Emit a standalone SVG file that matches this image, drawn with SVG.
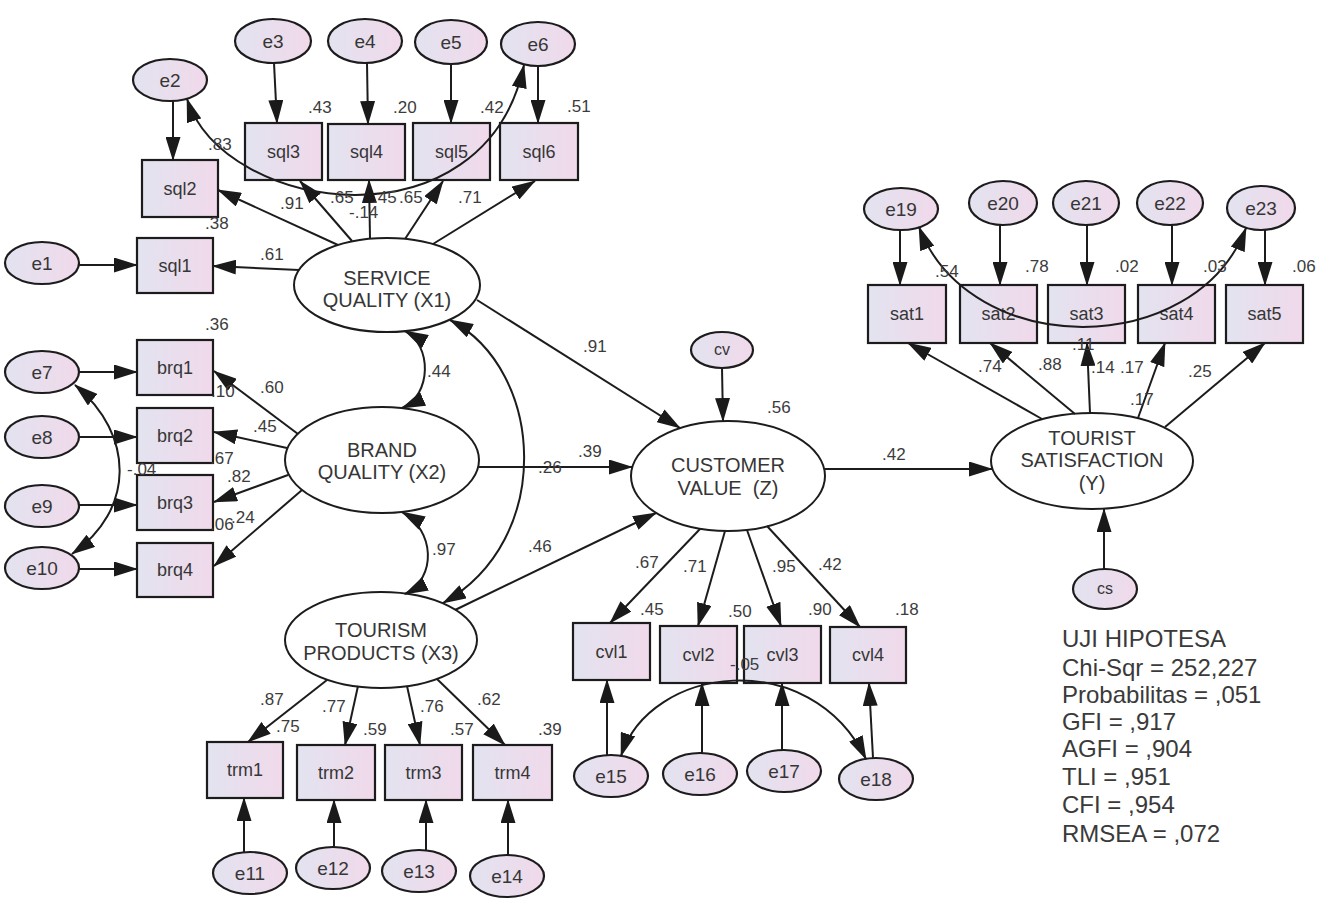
<svg xmlns="http://www.w3.org/2000/svg" width="1336" height="908" viewBox="0 0 1336 908">
<defs>
<linearGradient id="fillg" x1="0" y1="0" x2="1" y2="0">
<stop offset="0" stop-color="#e3e3f0"/><stop offset="1" stop-color="#f0d9ea"/>
</linearGradient>
<marker id="ah" markerUnits="userSpaceOnUse" markerWidth="24" markerHeight="15" viewBox="0 0 24 15" refX="23" refY="7.5" orient="auto-start-reverse"><path d="M0,0 L24,7.5 L0,15 z" fill="#1a1a1a"/></marker>
</defs>
<style>
.bx{fill:url(#fillg);stroke:#1c1c1c;stroke-width:2.2}
.er{fill:url(#fillg);stroke:#1c1c1c;stroke-width:2.2}
.lt{fill:#fff;stroke:#1c1c1c;stroke-width:2}
.t{font-family:"Liberation Sans",Arial,sans-serif;fill:#363636;text-anchor:middle}
.nl{font-size:18px}
.el{font-size:19px}
.ll{font-size:20px}
.n{font-family:"Liberation Sans",Arial,sans-serif;font-size:17px;fill:#3c3c3c}
.c path{stroke:#1c1c1c;stroke-width:2;fill:none}
.a{marker-end:url(#ah)}
.b{marker-start:url(#ah);marker-end:url(#ah)}
.st{font-family:"Liberation Sans",Arial,sans-serif;font-size:24px;fill:#3a3a3a}
</style>
<rect width="1336" height="908" fill="#fff"/>

<!-- observed boxes -->
<g id="sql1"><rect class="bx" x="137" y="238" width="76" height="55"/><text class="t nl" x="175" y="272">sql1</text></g>
<g id="sql2"><rect class="bx" x="142" y="160" width="76" height="57"/><text class="t nl" x="180" y="195">sql2</text></g>
<g id="sql3"><rect class="bx" x="245" y="123" width="77" height="57"/><text class="t nl" x="283.5" y="158">sql3</text></g>
<g id="sql4"><rect class="bx" x="328" y="124" width="77" height="56"/><text class="t nl" x="366.5" y="158">sql4</text></g>
<g id="sql5"><rect class="bx" x="413" y="123" width="77" height="57"/><text class="t nl" x="451.5" y="158">sql5</text></g>
<g id="sql6"><rect class="bx" x="500" y="123" width="78" height="57"/><text class="t nl" x="539" y="158">sql6</text></g>
<g id="brq1"><rect class="bx" x="137" y="340" width="76" height="55"/><text class="t nl" x="175" y="374">brq1</text></g>
<g id="brq2"><rect class="bx" x="137" y="408" width="76" height="55"/><text class="t nl" x="175" y="442">brq2</text></g>
<g id="brq3"><rect class="bx" x="137" y="475" width="76" height="55"/><text class="t nl" x="175" y="509">brq3</text></g>
<g id="brq4"><rect class="bx" x="137" y="543" width="76" height="54"/><text class="t nl" x="175" y="576">brq4</text></g>
<g id="trm1"><rect class="bx" x="207" y="742" width="76" height="56"/><text class="t nl" x="245" y="776">trm1</text></g>
<g id="trm2"><rect class="bx" x="297" y="745" width="78" height="55"/><text class="t nl" x="336" y="779">trm2</text></g>
<g id="trm3"><rect class="bx" x="385" y="745" width="77" height="55"/><text class="t nl" x="423.5" y="779">trm3</text></g>
<g id="trm4"><rect class="bx" x="473" y="745" width="79" height="55"/><text class="t nl" x="512.5" y="779">trm4</text></g>
<g id="cvl1"><rect class="bx" x="573" y="623" width="77" height="57"/><text class="t nl" x="611.5" y="658">cvl1</text></g>
<g id="cvl2"><rect class="bx" x="660" y="626" width="77" height="57"/><text class="t nl" x="698.5" y="661">cvl2</text></g>
<g id="cvl3"><rect class="bx" x="744" y="626" width="77" height="57"/><text class="t nl" x="782.5" y="661">cvl3</text></g>
<g id="cvl4"><rect class="bx" x="830" y="627" width="76" height="56"/><text class="t nl" x="868" y="661">cvl4</text></g>
<g id="sat1"><rect class="bx" x="868" y="285" width="78" height="58"/><text class="t nl" x="907" y="320">sat1</text></g>
<g id="sat2"><rect class="bx" x="960" y="285" width="77" height="58"/><text class="t nl" x="998.5" y="320">sat2</text></g>
<g id="sat3"><rect class="bx" x="1048" y="285" width="77" height="58"/><text class="t nl" x="1086.5" y="320">sat3</text></g>
<g id="sat4"><rect class="bx" x="1138" y="285" width="77" height="58"/><text class="t nl" x="1176.5" y="320">sat4</text></g>
<g id="sat5"><rect class="bx" x="1226" y="285" width="77" height="58"/><text class="t nl" x="1264.5" y="320">sat5</text></g>

<!-- error terms -->
<g id="e1"><ellipse class="er" cx="42" cy="263" rx="37" ry="21"/><text class="t el" x="42" y="270">e1</text></g>
<g id="e2"><ellipse class="er" cx="170" cy="80" rx="37" ry="21"/><text class="t el" x="170" y="87">e2</text></g>
<g id="e3"><ellipse class="er" cx="273" cy="41" rx="38" ry="22"/><text class="t el" x="273" y="48">e3</text></g>
<g id="e4"><ellipse class="er" cx="365" cy="41" rx="37" ry="22"/><text class="t el" x="365" y="48">e4</text></g>
<g id="e5"><ellipse class="er" cx="451" cy="42" rx="36" ry="22"/><text class="t el" x="451" y="49">e5</text></g>
<g id="e6"><ellipse class="er" cx="538" cy="44" rx="37" ry="22"/><text class="t el" x="538" y="51">e6</text></g>
<g id="e7"><ellipse class="er" cx="42" cy="372" rx="37" ry="21"/><text class="t el" x="42" y="379">e7</text></g>
<g id="e8"><ellipse class="er" cx="42" cy="437" rx="37" ry="21"/><text class="t el" x="42" y="444">e8</text></g>
<g id="e9"><ellipse class="er" cx="42" cy="506" rx="37" ry="21"/><text class="t el" x="42" y="513">e9</text></g>
<g id="e10"><ellipse class="er" cx="42" cy="568" rx="37" ry="21"/><text class="t el" x="42" y="575">e10</text></g>
<g id="e11"><ellipse class="er" cx="250" cy="873" rx="37" ry="21"/><text class="t el" x="250" y="880">e11</text></g>
<g id="e12"><ellipse class="er" cx="333" cy="868" rx="37" ry="21"/><text class="t el" x="333" y="875">e12</text></g>
<g id="e13"><ellipse class="er" cx="419" cy="871" rx="37" ry="21"/><text class="t el" x="419" y="878">e13</text></g>
<g id="e14"><ellipse class="er" cx="507" cy="876" rx="37" ry="21"/><text class="t el" x="507" y="883">e14</text></g>
<g id="e15"><ellipse class="er" cx="611" cy="776" rx="37" ry="21"/><text class="t el" x="611" y="783">e15</text></g>
<g id="e16"><ellipse class="er" cx="700" cy="774" rx="37" ry="21"/><text class="t el" x="700" y="781">e16</text></g>
<g id="e17"><ellipse class="er" cx="784" cy="771" rx="37" ry="21"/><text class="t el" x="784" y="778">e17</text></g>
<g id="e18"><ellipse class="er" cx="876" cy="779" rx="37" ry="21"/><text class="t el" x="876" y="786">e18</text></g>
<g id="e19"><ellipse class="er" cx="901" cy="209" rx="37" ry="21"/><text class="t el" x="901" y="216">e19</text></g>
<g id="e20"><ellipse class="er" cx="1003" cy="203" rx="34" ry="22"/><text class="t el" x="1003" y="210">e20</text></g>
<g id="e21"><ellipse class="er" cx="1086" cy="203" rx="33" ry="22"/><text class="t el" x="1086" y="210">e21</text></g>
<g id="e22"><ellipse class="er" cx="1170" cy="203" rx="33" ry="22"/><text class="t el" x="1170" y="210">e22</text></g>
<g id="e23"><ellipse class="er" cx="1261" cy="208" rx="34" ry="22"/><text class="t el" x="1261" y="215">e23</text></g>
<g id="cv"><ellipse class="er" cx="722" cy="350" rx="31" ry="18"/><text class="t" style="font-size:16px" x="722" y="355">cv</text></g>
<g id="cs"><ellipse class="er" cx="1105" cy="589" rx="32" ry="20"/><text class="t" style="font-size:16px" x="1105" y="594">cs</text></g>

<!-- latent variables -->
<g id="SQ"><ellipse class="lt" cx="387" cy="285" rx="93" ry="47"/><text class="t ll" x="387" y="285">SERVICE</text><text class="t ll" x="387" y="307">QUALITY (X1)</text></g>
<g id="BQ"><ellipse class="lt" cx="382" cy="460" rx="97" ry="53"/><text class="t ll" x="382" y="457">BRAND</text><text class="t ll" x="382" y="479">QUALITY (X2)</text></g>
<g id="TP"><ellipse class="lt" cx="381" cy="640" rx="96" ry="48"/><text class="t ll" x="381" y="637">TOURISM</text><text class="t ll" x="381" y="660">PRODUCTS (X3)</text></g>
<g id="CV"><ellipse class="lt" cx="728" cy="476" rx="97" ry="55"/><text class="t ll" x="728" y="472">CUSTOMER</text><text class="t ll" x="728" y="495" style="white-space:pre">VALUE  (Z)</text></g>
<g id="TS"><ellipse class="lt" cx="1092" cy="461" rx="101" ry="48"/><text class="t ll" x="1092" y="445">TOURIST</text><text class="t ll" x="1092" y="467">SATISFACTION</text><text class="t ll" x="1092" y="490">(Y)</text></g>

<!-- connectors -->
<g id="connectors" class="c">
<path class="a" d="M79,265 L137,265"/>
<path class="a" d="M173,101 L173,160"/>
<path class="a" d="M274,63 L277,123"/>
<path class="a" d="M367,63 L368,124"/>
<path class="a" d="M451,64 L451,123"/>
<path class="a" d="M538,66 L538,123"/>
<path class="a" d="M79,372 L137,372"/>
<path class="a" d="M79,437 L137,437"/>
<path class="a" d="M79,505 L137,505"/>
<path class="a" d="M79,569 L137,569"/>
<path class="a" d="M244,852 L244,798"/>
<path class="a" d="M334,847 L334,800"/>
<path class="a" d="M426,851 L426,800"/>
<path class="a" d="M508,855 L508,800"/>
<path class="a" d="M607,755 L607,680"/>
<path class="a" d="M702,753 L702,683"/>
<path class="a" d="M782,750 L782,683"/>
<path class="a" d="M873,758 L869,683"/>
<path class="a" d="M900,230 L900,285"/>
<path class="a" d="M1000,225 L1000,285"/>
<path class="a" d="M1087,225 L1087,285"/>
<path class="a" d="M1172,225 L1172,285"/>
<path class="a" d="M1265,230 L1265,285"/>
<path class="a" d="M722,368 L723,421"/>
<path class="a" d="M1104,569 L1104,509"/>
<path class="a" d="M299,270 L213,266"/>
<path class="a" d="M338,245 L218,190"/>
<path class="a" d="M352,241 L300,181"/>
<path class="a" d="M370,238 L369,180"/>
<path class="a" d="M405,239 L443,181"/>
<path class="a" d="M433,244 L535,181"/>
<path class="a" d="M298,434 L214,371"/>
<path class="a" d="M287,448 L214,432"/>
<path class="a" d="M288,475 L214,502"/>
<path class="a" d="M302,490 L214,566"/>
<path class="a" d="M327,680 L248,742"/>
<path class="a" d="M358,686 L345,745"/>
<path class="a" d="M407,686 L420,745"/>
<path class="a" d="M437,679 L505,745"/>
<path class="a" d="M700,529 L610,623"/>
<path class="a" d="M725,531 L698,626"/>
<path class="a" d="M747,530 L781,626"/>
<path class="a" d="M767,526 L860,627"/>
<path class="a" d="M1042,419 L908,343"/>
<path class="a" d="M1075,414 L990,343"/>
<path class="a" d="M1090,413 L1087,343"/>
<path class="a" d="M1138,418 L1165,343"/>
<path class="a" d="M1165,427 L1265,343"/>
<path class="a" d="M477,300 L680,428"/>
<path class="a" d="M479,467 L632,467"/>
<path class="a" d="M455,610 L656,513"/>
<path class="a" d="M825,469 L992,469"/>
<path class="b" d="M187,99 C225,215 485,250 524,65"/>
<path class="b" d="M75,385 C135,435 135,510 72,554"/>
<path class="b" d="M405,331 C432,345 432,395 402,408"/>
<path class="b" d="M402,512 C435,530 437,578 405,594"/>
<path class="b" d="M450,320 C545,370 555,540 443,603"/>
<path class="b" d="M621,756 C650,665 810,645 866,759"/>
<path class="b" d="M919,227 C970,360 1195,360 1246,228"/>
</g>

<!-- estimates -->
<g id="estimates">
<text class="n" x="208" y="150">.83</text>
<text class="n" x="308" y="113">.43</text>
<text class="n" x="393" y="113">.20</text>
<text class="n" x="480" y="113">.42</text>
<text class="n" x="567" y="112">.51</text>
<text class="n" x="205" y="229">.38</text>
<text class="n" x="280" y="209">.91</text>
<text class="n" x="330" y="203">.65</text>
<text class="n" x="349" y="218">-.14</text>
<text class="n" x="373" y="203">.45</text>
<text class="n" x="399" y="203">.65</text>
<text class="n" x="458" y="203">.71</text>
<text class="n" x="260" y="260">.61</text>
<text class="n" x="205" y="330">.36</text>
<text class="n" x="211" y="397">.10</text>
<text class="n" x="260" y="393">.60</text>
<text class="n" x="253" y="432">.45</text>
<text class="n" x="210" y="464">.67</text>
<text class="n" x="227" y="482">.82</text>
<text class="n" x="210" y="530">.06</text>
<text class="n" x="231" y="523">.24</text>
<text class="n" x="127" y="475">-.04</text>
<text class="n" x="427" y="377">.44</text>
<text class="n" x="432" y="555">.97</text>
<text class="n" x="583" y="352">.91</text>
<text class="n" x="538" y="473">.26</text>
<text class="n" x="578" y="457">.39</text>
<text class="n" x="528" y="552">.46</text>
<text class="n" x="767" y="413">.56</text>
<text class="n" x="882" y="460">.42</text>
<text class="n" x="635" y="568">.67</text>
<text class="n" x="683" y="572">.71</text>
<text class="n" x="772" y="572">.95</text>
<text class="n" x="818" y="570">.42</text>
<text class="n" x="640" y="615">.45</text>
<text class="n" x="728" y="617">.50</text>
<text class="n" x="808" y="615">.90</text>
<text class="n" x="895" y="615">.18</text>
<text class="n" x="730" y="670">-.05</text>
<text class="n" x="260" y="705">.87</text>
<text class="n" x="276" y="732">.75</text>
<text class="n" x="322" y="712">.77</text>
<text class="n" x="363" y="735">.59</text>
<text class="n" x="420" y="712">.76</text>
<text class="n" x="450" y="735">.57</text>
<text class="n" x="477" y="705">.62</text>
<text class="n" x="538" y="735">.39</text>
<text class="n" x="935" y="277">.54</text>
<text class="n" x="1025" y="272">.78</text>
<text class="n" x="1115" y="272">.02</text>
<text class="n" x="1203" y="272">.03</text>
<text class="n" x="1292" y="272">.06</text>
<text class="n" x="978" y="372">.74</text>
<text class="n" x="1038" y="370">.88</text>
<text class="n" x="1072" y="350">.11</text>
<text class="n" x="1091" y="373">.14</text>
<text class="n" x="1120" y="373">.17</text>
<text class="n" x="1130" y="405">.17</text>
<text class="n" x="1188" y="377">.25</text>
</g>

<g id="fit-statistics">
<text class="st" x="1062" y="647">UJI HIPOTESA</text>
<text class="st" x="1062" y="676">Chi-Sqr = 252,227</text>
<text class="st" x="1062" y="703">Probabilitas = ,051</text>
<text class="st" x="1062" y="730">GFI = ,917</text>
<text class="st" x="1062" y="757">AGFI = ,904</text>
<text class="st" x="1062" y="785">TLI = ,951</text>
<text class="st" x="1062" y="813">CFI = ,954</text>
<text class="st" x="1062" y="842">RMSEA = ,072</text>
</g>
</svg>
